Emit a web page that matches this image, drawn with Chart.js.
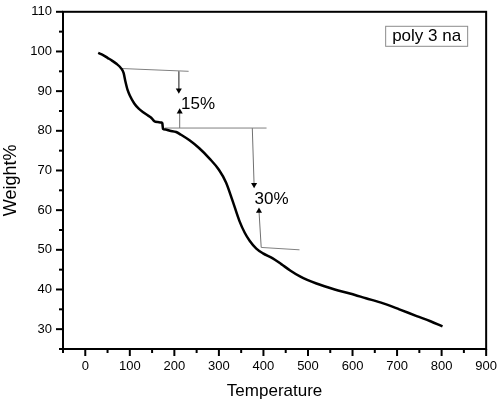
<!DOCTYPE html>
<html>
<head>
<meta charset="utf-8">
<script src="https://cdn.jsdelivr.net/npm/chart.js@4"></script>
<style>
  body { margin: 0; background: #fff; }
</style>
</head>
<body>
<canvas id="tga" width="500" height="406"></canvas>
<script>
// TGA curve (temperature in C, weight in %)
const temperature = [29, 40, 50, 60, 70, 80, 86, 90, 95, 100, 110, 120, 130, 140, 148, 155, 163, 171, 173, 174.5,
  180, 190, 204, 215, 234, 256, 279, 300, 316, 330, 346, 358, 369, 384, 399, 420, 440, 460, 482,
  519, 560, 594, 630, 669, 705, 744, 775, 802];
const weight = [99.65, 99.1, 98.4, 97.7, 96.9, 95.8, 94.6, 92.5, 90.3, 88.9, 86.9, 85.6, 84.7, 83.9, 83.3, 82.4, 82.2, 82.1, 81.9, 80.5,
  80.3, 80.0, 79.7, 79.0, 77.6, 75.6, 73.0, 70.2, 67.0, 62.6, 57.3, 54.3, 52.3, 50.3, 49.1, 47.9, 46.4, 44.8, 43.3,
  41.5, 40.0, 39.0, 37.8, 36.5, 35.0, 33.3, 32.0, 30.7];

// guide lines and arrows for the two weight-loss steps
const guideT = [[82, 232], [178, 407], [395, 481]];
const guideW = [[95.7, 95.0], [80.7, 80.7], [50.6, 50.0]];
const arrowT = [[210, 210], [212, 212], [375, 379], [395, 390]];
const arrowW = [[95.0, 90.2], [80.7, 84.8], [80.7, 66.4], [50.6, 59.8]];
const lossText = ["15%", "30%"];
const lossT = [215, 380];
const lossW = [86.7, 62.8];
const sampleName = "poly 3 na";

const FONT = "'Liberation Sans', Arial, sans-serif";

const datasets = [{
  data: temperature.map((t, i) => ({ x: t, y: weight[i] })),
  borderColor: "#000",
  borderWidth: 2.5,
  pointRadius: 0,
  cubicInterpolationMode: "monotone",
}];
guideT.forEach((t, i) => datasets.push({
  data: t.map((v, j) => ({ x: v, y: guideW[i][j] })),
  borderColor: "#808080",
  borderWidth: 1,
  pointRadius: 0,
}));
arrowT.forEach((t, i) => {
  const up = arrowW[i][1] > arrowW[i][0];
  datasets.push({
    data: t.map((v, j) => ({ x: v, y: arrowW[i][j] })),
    borderColor: "#707070",
    borderWidth: 1,
    pointStyle: "triangle",
    pointRadius: [0, 3.5],
    pointRotation: up ? 0 : 180,
    pointBackgroundColor: "#000",
    pointBorderColor: "#000",
    pointBorderWidth: 0,
  });
});

const frame = {
  id: "frame",
  afterDraw(chart) {
    const ctx = chart.ctx;
    const a = chart.chartArea;
    const xs = chart.scales.x, ys = chart.scales.y;
    ctx.save();
    ctx.strokeStyle = "#000";
    ctx.lineWidth = 2;
    ctx.strokeRect(a.left, a.top, a.right - a.left, a.bottom - a.top);
    // major / minor tick marks
    xs.ticks.forEach(t => {
      const px = xs.getPixelForValue(t.value);
      const len = t.value % 100 === 0 ? 7 : 4;
      ctx.beginPath();
      ctx.moveTo(px, a.bottom);
      ctx.lineTo(px, a.bottom + len);
      ctx.stroke();
    });
    ys.ticks.forEach(t => {
      const py = ys.getPixelForValue(t.value);
      const len = t.value % 10 === 0 ? 7 : 4;
      ctx.beginPath();
      ctx.moveTo(a.left, py);
      ctx.lineTo(a.left - len, py);
      ctx.stroke();
    });
    // loss labels
    ctx.fillStyle = "#000";
    ctx.font = "17px " + FONT;
    ctx.textBaseline = "middle";
    ctx.textAlign = "left";
    lossText.forEach((s, i) => {
      ctx.fillText(s, xs.getPixelForValue(lossT[i]), ys.getPixelForValue(lossW[i]));
    });
    // sample name box
    const bx = a.right - 101, by = a.top + 14;
    ctx.strokeStyle = "#8c8c8c";
    ctx.lineWidth = 1;
    ctx.strokeRect(bx + 0.5, by + 0.5, 82, 20);
    ctx.fillText(sampleName, bx + 7, by + 11);
    ctx.restore();
  }
};

new Chart(document.getElementById("tga"), {
  type: "line",
  data: { datasets },
  options: {
    responsive: false,
    animation: false,
    layout: { padding: { top: 9, right: 13, left: 0, bottom: 0 } },
    plugins: { legend: { display: false }, tooltip: { enabled: false } },
    scales: {
      x: {
        type: "linear",
        min: -50,
        max: 900,
        afterFit: s => { s.height = 57; },
        ticks: {
          stepSize: 50,
          autoSkip: false,
          maxRotation: 0,
          padding: 3,
          color: "#000",
          font: { family: FONT, size: 13 },
          callback: v => (v % 100 === 0 ? v : ""),
        },
        grid: { drawOnChartArea: false, tickLength: 7, tickColor: "rgba(0,0,0,0)" },
        border: { color: "#000", width: 2 },
        title: {
          display: true, text: "Temperature", color: "#000",
          font: { family: FONT, size: 17 }, padding: { top: 0, bottom: 4 },
        },
      },
      y: {
        min: 25,
        max: 110,
        afterFit: s => { s.width = 63; },
        ticks: {
          stepSize: 5,
          autoSkip: false,
          padding: 4,
          color: "#000",
          font: { family: FONT, size: 13 },
          callback: v => (v % 10 === 0 ? v : ""),
        },
        grid: { drawOnChartArea: false, tickLength: 7, tickColor: "rgba(0,0,0,0)" },
        border: { color: "#000", width: 2 },
        title: {
          display: true, text: "Weight%", color: "#000",
          font: { family: FONT, size: 18 }, padding: { top: 0, bottom: 0 },
        },
      },
    },
  },
  plugins: [frame],
});
</script>
</body>
</html>
